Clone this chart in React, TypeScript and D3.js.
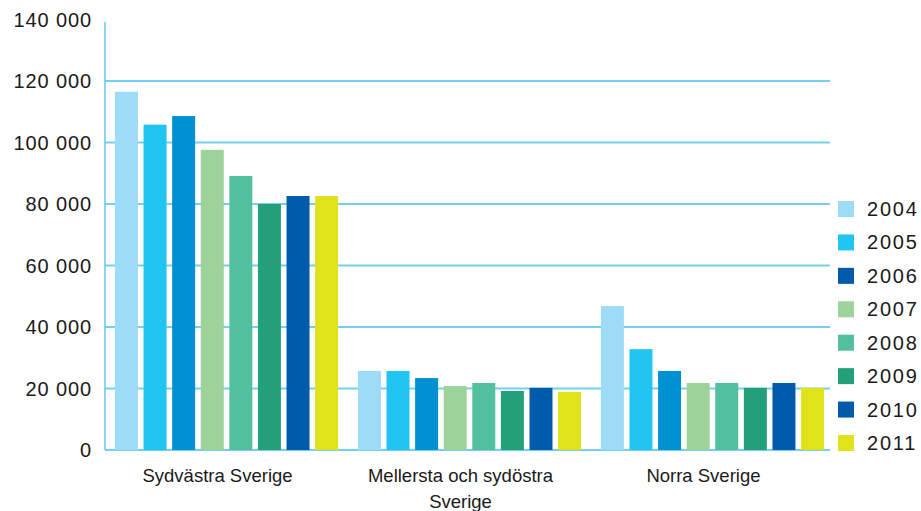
import React from 'react'
import * as d3 from 'd3'

const regions = ['Sydvästra Sverige', 'Mellersta och sydöstra Sverige', 'Norra Sverige']
const regionLines = [['Sydvästra Sverige'], ['Mellersta och sydöstra', 'Sverige'], ['Norra Sverige']]
const years = ['2004', '2005', '2006', '2007', '2008', '2009', '2010', '2011']
const barColors = ['#9edbf6', '#22c4f2', '#0091d2', '#9ed29b', '#52bf9f', '#23a077', '#005baa', '#e1e31a']
// the legend swatch for 2006 is drawn in the darker blue in the original
const legendColors = ['#9edbf6', '#22c4f2', '#005baa', '#9ed29b', '#52bf9f', '#23a077', '#005baa', '#e1e31a']
const sydvastra = [116500, 105800, 108600, 97600, 89100, 80000, 82600, 82600]
const mellersta = [25700, 25700, 23400, 20800, 21800, 19200, 20200, 18900]
const norra = [46800, 32800, 25700, 21800, 21800, 20200, 21800, 20200]
const yTicks = [0, 20000, 40000, 60000, 80000, 100000, 120000, 140000]

const series = [sydvastra, mellersta, norra]

const fmt = (v: number) => d3.format(',')(v).replace(/,/g, ' ')

export default function App() {
  const width = 921
  const height = 511
  const left = 105
  const gridRight = 830

  const x0 = d3.scaleBand<string>().domain(regions).range([left, 834]).paddingInner(0.0815).paddingOuter(0.041)
  const x1 = d3.scaleBand<string>().domain(years).range([0, x0.bandwidth()]).paddingInner(0.196)
  const y = d3.scaleLinear().domain([0, 140000]).range([450, 19.5])

  const legendY = d3.scalePoint<string>().domain(years).range([209, 443])
  const font = 'Liberation Sans, Arial, sans-serif'

  return (
    <svg width={width} height={height} style={{ position: 'absolute', left: 0, top: 0, background: '#fff' }}>
      {yTicks.filter(t => t < 140000).map(t => (
        <line key={t} x1={left} x2={gridRight} y1={y(t)} y2={y(t)} stroke="#72d0f2" strokeWidth={1.8} />
      ))}
      <line x1={left} x2={left} y1={22} y2={y(0)} stroke="#5ccbf0" strokeWidth={1.5} />
      {regions.map((r, gi) => (
        <g key={r} transform={`translate(${x0(r)},0)`}>
          {years.map((yr, i) => (
            <rect
              key={yr}
              x={x1(yr)}
              y={y(series[gi][i])}
              width={x1.bandwidth()}
              height={y(0) - y(series[gi][i])}
              fill={barColors[i]}
            />
          ))}
        </g>
      ))}
      {yTicks.map(t => (
        <text
          key={t}
          x={92}
          y={y(t)}
          dy="0.35em"
          textAnchor="end"
          fontFamily={font}
          fontSize={20}
          letterSpacing={0.9}
          fill="#1a1a1a"
        >
          {fmt(t)}
        </text>
      ))}
      {regions.map((r, gi) => {
        const cx = (x0(r) as number) + x0.bandwidth() / 2 - 9
        return (
          <text key={r} x={cx} y={482} textAnchor="middle" fontFamily={font} fontSize={18.5} fill="#1a1a1a">
            {regionLines[gi].map((line, li) => (
              <tspan key={li} x={cx} dy={li === 0 ? 0 : 26}>
                {line}
              </tspan>
            ))}
          </text>
        )
      })}
      {years.map((yr, i) => (
        <g key={yr} transform={`translate(838,${legendY(yr)})`}>
          <rect x={0} y={-8} width={16} height={16} fill={legendColors[i]} />
          <text x={29} y={0} dy="0.35em" fontFamily={font} fontSize={20} letterSpacing={1.8} fill="#1a1a1a">
            {yr}
          </text>
        </g>
      ))}
    </svg>
  )
}
